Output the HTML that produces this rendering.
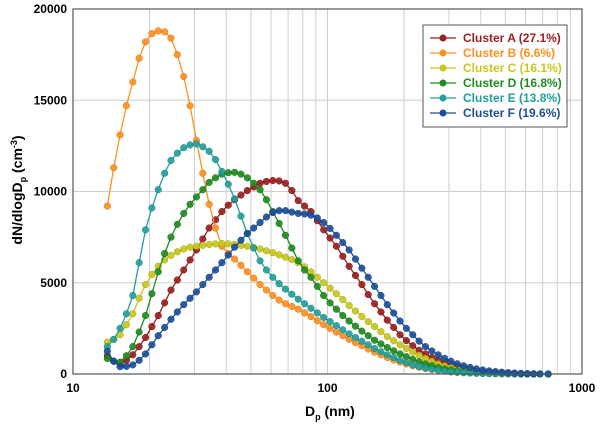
<!DOCTYPE html>
<html><head><meta charset="utf-8"><style>
body{margin:0;background:#fff;}
svg text{font-family:"Liberation Sans",sans-serif;font-weight:bold;}
</style></head><body>
<svg id="chart" width="600" height="426" xmlns="http://www.w3.org/2000/svg">
<g id="grid"></g>
<g id="series"></g>
<rect x="73" y="9" width="509" height="365" fill="none" stroke="#555" stroke-width="1.2"/>
<g id="ticks"></g>
<text x="305" y="416" font-size="14">D<tspan font-size="9" dy="4">p</tspan><tspan dy="-4"> (nm)</tspan></text>
<text transform="translate(22,190) rotate(-90)" text-anchor="middle" font-size="14">dN/dlogD<tspan font-size="9" dy="4">p</tspan><tspan dy="-4"> (cm</tspan><tspan font-size="9" dy="-5">-3</tspan><tspan dy="5">)</tspan></text>
<g id="legend">
<rect x="423" y="25" width="144" height="102" fill="#fff" stroke="#555" stroke-width="1"/>
</g>
</svg>
<script>
const logD = [1.135,1.16,1.185,1.21,1.235,1.26,1.285,1.31,1.335,1.36,1.385,1.41,1.435,1.46,1.485,1.51,1.535,1.56,1.585,1.61,1.635,1.66,1.685,1.71,1.735,1.76,1.785,1.81,1.835,1.86,1.885,1.91,1.935,1.96,1.985,2.01,2.035,2.06,2.085,2.11,2.135,2.16,2.185,2.21,2.235,2.26,2.285,2.31,2.335,2.36,2.385,2.41,2.435,2.46,2.485,2.51,2.535,2.56,2.585,2.61,2.635,2.66,2.685,2.71,2.735,2.76,2.785,2.81,2.835,2.867];
const seriesNames = ["Cluster A (27.1%)","Cluster B (6.6%)","Cluster C (16.1%)","Cluster D (16.8%)","Cluster E (13.8%)","Cluster F (19.6%)"];
const clusterA = [1000,700,550,750,1050,1500,2000,2600,3200,3900,4600,5150,5700,6250,6800,7400,8000,8450,8900,9250,9550,9800,10050,10250,10450,10550,10600,10580,10450,10050,9500,9200,8900,8400,7900,7450,7000,6450,5900,5400,4900,4350,3850,3400,2950,2550,2150,1830,1550,1300,1100,900,750,610,500,390,300,230,170,125,90,70,50,36,25,17,10,5,0,0];
const clusterB = [9200,11300,13100,14700,16000,17300,18200,18650,18800,18750,18400,17500,16300,14700,12800,11000,9300,8000,7000,6600,6300,5950,5600,5250,4900,4600,4300,4050,3850,3700,3550,3350,3150,2920,2700,2500,2300,2100,1900,1720,1550,1370,1200,1050,900,770,650,550,450,370,300,250,200,160,120,90,70,55,40,30,20,15,10,7,5,2,0,0,0,0];
const clusterC = [1750,1900,2150,2700,3300,4150,4900,5450,5900,6250,6500,6700,6850,6950,7000,7050,7100,7130,7150,7130,7100,7050,7000,6930,6850,6750,6650,6530,6400,6270,6100,5870,5600,5300,5000,4700,4400,4080,3750,3450,3150,2870,2600,2320,2050,1820,1600,1400,1200,1020,850,690,550,440,350,270,200,160,120,90,60,45,30,22,15,10,5,2,0,0];
const clusterD = [850,700,650,1000,1500,2300,3200,4400,5600,6600,7500,8200,8800,9300,9700,10100,10500,10750,10950,11030,11050,10950,10750,10450,10100,9550,8900,8250,7600,6900,6200,5700,5300,4800,4300,3900,3550,3200,2900,2620,2350,2100,1850,1650,1450,1270,1100,950,800,670,550,450,350,280,220,170,130,100,70,55,40,30,20,15,10,7,5,2,0,0];
const clusterE = [1500,1900,2500,3300,4300,6100,7900,9100,10100,11000,11700,12100,12400,12550,12600,12450,12200,11750,11100,10400,9600,8650,7700,6900,6200,5700,5300,4950,4650,4370,4100,3850,3600,3350,3100,2870,2650,2420,2200,2000,1800,1600,1400,1220,1050,900,750,620,500,410,330,260,200,160,120,95,70,55,40,30,20,15,10,7,5,2,0,0,0,0];
const clusterF = [1250,700,400,420,500,750,1100,1600,2100,2550,3000,3400,3800,4150,4500,4900,5300,5700,6100,6520,6950,7330,7700,8000,8300,8600,8850,8950,8950,8870,8800,8770,8700,8550,8300,7980,7600,7200,6800,6300,5800,5300,4800,4300,3800,3340,2900,2500,2150,1800,1500,1260,1050,860,700,560,450,360,280,220,170,130,100,75,50,35,20,12,5,0];
const yTicks = [0,5000,10000,15000,20000];
const xTicks = [10,100,1000];
const colors = ["#9a1f1f","#ff9020","#c8c81c","#1e8c1e","#22a09c","#1c4f9a"];
const strokes = ["#6e1010","#d86e10","#a0a010","#146814","#15807c","#123a78"];
const allSeries = [clusterA,clusterB,clusterC,clusterD,clusterE,clusterF];
const NS="http://www.w3.org/2000/svg";
const X0=73,X1=582,Y0=374,Y1=9;
function xs(ld){return X0+(ld-1)*(X1-X0)/2;}
function ys(v){return Y0-v*(Y0-Y1)/20000;}
function mk(t,a,p){const e=document.createElementNS(NS,t);for(const k in a)e.setAttribute(k,a[k]);p.appendChild(e);return e;}
const grid=document.getElementById('grid');
for(let dec=10;dec<=100;dec*=10){for(let m=1;m<=10;m++){const ld=Math.log10(dec*m);if(ld<=1||ld>=3)continue;
 const l=mk('line',{x1:xs(ld),x2:xs(ld),y1:Y1,y2:Y0,stroke:'#cfcfcf','stroke-width':1},grid);
 
 }}
yTicks.forEach(v=>{if(v===0||v===20000)return;
 const l=mk('line',{x1:X0,x2:X1,y1:ys(v),y2:ys(v),stroke:'#cfcfcf','stroke-width':1},grid);
 
 });
const ticks=document.getElementById('ticks');
yTicks.forEach(v=>{const t=mk('text',{x:67,y:ys(v)+4,'text-anchor':'end','font-size':12},ticks);t.textContent=v;
 
 });
xTicks.forEach(v=>{const t=mk('text',{x:xs(Math.log10(v)),y:392,'text-anchor':'middle','font-size':12},ticks);t.textContent=v;
 
 });
const sg=document.getElementById('series');
allSeries.forEach((s,i)=>{const g=mk('g',{},sg);
 
 
 const n=Math.min(s.length,logD.length);
 const pts=[];for(let j=0;j<n;j++)pts.push(xs(logD[j])+','+ys(s[j]));
 mk('polyline',{points:pts.join(' '),fill:'none',stroke:colors[i],'stroke-width':1.3},g);
 for(let j=0;j<n;j++){const c=mk('circle',{cx:xs(logD[j]),cy:ys(s[j]),r:3.3,fill:colors[i],'fill-opacity':0.9,stroke:strokes[i],'stroke-width':0.5},g);
  
  }});
const lg=document.getElementById('legend');
seriesNames.forEach((n,i)=>{const y=38+i*15;const g=mk('g',{},lg);
 
 
 mk('line',{x1:430,x2:456,y1:y,y2:y,stroke:colors[i],'stroke-width':1.3},g);
 mk('circle',{cx:443,cy:y,r:3.5,fill:colors[i]},g);
 const t=mk('text',{x:463,y:y+4,'font-size':12,fill:colors[i]},g);t.textContent=n;});
</script>
</body></html>
